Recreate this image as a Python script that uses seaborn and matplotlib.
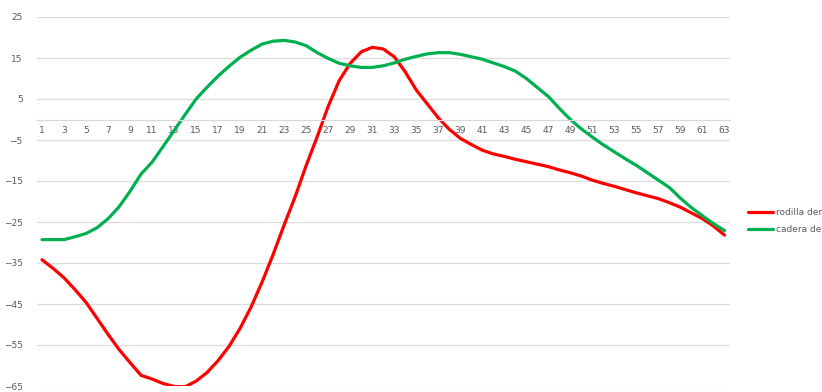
import numpy as np
import pandas as pd
import matplotlib
matplotlib.use("Agg")
import matplotlib.pyplot as plt
import seaborn as sns

# frame index 1..63, angles in degrees
frames = list(range(1, 64))

rodilla = [-34.2, -36.3, -38.6, -41.5, -44.6, -48.5, -52.4, -56.1, -59.3, -62.4,
           -63.3, -64.4, -65.1, -65.2, -63.8, -61.7, -58.8, -55.3, -50.9, -45.7,
           -39.6, -32.9, -25.7, -18.8, -11.2, -4.2, 3.2, 9.5, 13.7, 16.5,
           17.6, 17.2, 15.3, 11.6, 7.2, 3.8, 0.4, -2.4, -4.6, -6.1,
           -7.5, -8.4, -9.0, -9.7, -10.3, -10.9, -11.5, -12.3, -13.0, -13.8,
           -14.8, -15.6, -16.3, -17.1, -17.9, -18.6, -19.3, -20.3, -21.4, -22.8,
           -24.2, -26.0, -28.2]

cadera = [-29.3, -29.3, -29.3, -28.6, -27.8, -26.4, -24.2, -21.3, -17.5, -13.3,
          -10.4, -6.6, -2.7, 1.2, 5.0, 7.9, 10.6, 13.0, 15.2, 16.9,
          18.4, 19.1, 19.3, 18.9, 18.0, 16.3, 14.9, 13.7, 13.1, 12.7,
          12.7, 13.1, 13.8, 14.7, 15.4, 16.0, 16.3, 16.3, 15.9, 15.3,
          14.7, 13.8, 12.9, 11.8, 10.0, 7.8, 5.6, 2.7, 0.0, -2.3,
          -4.3, -6.2, -7.9, -9.6, -11.2, -13.0, -14.8, -16.6, -19.2, -21.5,
          -23.5, -25.4, -27.1]

series_names = ["rodilla derecha", "cadera derecha"]
series_colors = ["#FF0000", "#00B050"]
y_ticks = [25, 15, 5, -5, -15, -25, -35, -45, -55, -65]
x_ticks = list(range(1, 64, 2))

df = pd.DataFrame({
    "frame": frames * 2,
    "angulo": rodilla + cadera,
    "serie": [series_names[0]] * len(frames) + [series_names[1]] * len(frames),
})

sns.set_theme(style="white")
plt.rcParams["font.family"] = ["DejaVu Sans"]

fig = plt.figure(figsize=(8.22, 3.92), dpi=100)
# plot area: x from 36.5 to 730 px, y from 17 (top) to 386 px
ax = fig.add_axes([36.5 / 822, 6 / 392, (730 - 36.5) / 822, 369 / 392])

sns.lineplot(data=df, x="frame", y="angulo", hue="serie",
             palette=dict(zip(series_names, series_colors)),
             linewidth=2.3, ax=ax, legend=False)

ax.set_xlim(0.5, 63.5)
ax.set_ylim(-65, 25)
ax.set_yticks(y_ticks)
ax.set_xticks(x_ticks)
ax.set_xticklabels([str(v) for v in x_ticks])
ax.yaxis.grid(True, color="#dcdcdc", linewidth=0.9)
ax.set_axisbelow(True)

for side in ["top", "right", "left"]:
    ax.spines[side].set_visible(False)
ax.spines["bottom"].set_position(("data", 0))
ax.spines["bottom"].set_color("#d9d9d9")
ax.spines["bottom"].set_linewidth(0.9)

ax.tick_params(axis="both", length=0, labelsize=6.5, labelcolor="#595959")
ax.tick_params(axis="x", pad=5)
ax.tick_params(axis="y", pad=10)
ax.set_xlabel("")
ax.set_ylabel("")

handles = [plt.Line2D([], [], color=c, linewidth=2.3) for c in series_colors]
fig.legend(handles, series_names, loc="upper left",
           bbox_to_anchor=(748 / 822, (392 - 208) / 392),
           bbox_transform=fig.transFigure, frameon=False,
           fontsize=6.5, labelcolor="#595959", handlelength=2.8,
           handletextpad=0.25, labelspacing=0.9, borderpad=0, borderaxespad=0)

fig.savefig("out.png", dpi=100)
